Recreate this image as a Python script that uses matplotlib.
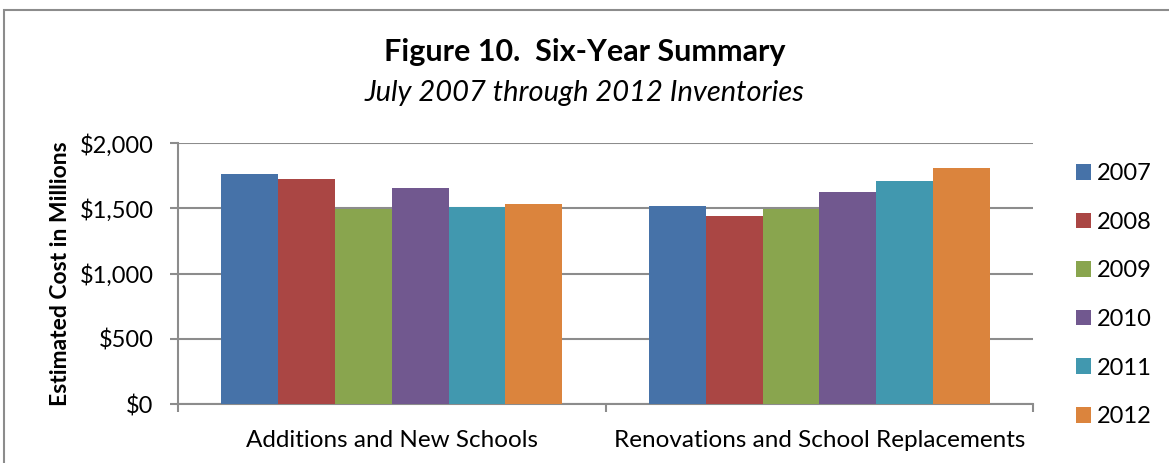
import numpy as np
import matplotlib.pyplot as plt
from matplotlib.patches import Rectangle
from matplotlib.ticker import FuncFormatter, FixedLocator

categories = ["Additions and New Schools", "Renovations and School Replacements"]
years = ["2007", "2008", "2009", "2010", "2011", "2012"]
cost_2007 = [1766, 1516]
cost_2008 = [1725, 1439]
cost_2009 = [1491, 1498]
cost_2010 = [1659, 1625]
cost_2011 = [1508, 1707]
cost_2012 = [1536, 1807]
colors = ["#4672A8", "#AA4644", "#89A54E", "#71588F", "#4198AF", "#DB843D"]

series = [cost_2007, cost_2008, cost_2009, cost_2010, cost_2011, cost_2012]

plt.rcParams["font.family"] = ["Lato", "DejaVu Sans"]

fig = plt.figure(figsize=(11.69, 4.63), dpi=100)
ax = fig.add_axes([0.1523, 0.1274, 0.7314, 0.5636])

x = np.arange(len(categories))
w = 1 / 7.53
for i, (vals, c, yr) in enumerate(zip(series, colors, years)):
    ax.bar(x + (i - 2.5) * w, vals, width=w, color=c, label=yr, zorder=3,
           edgecolor="none")

ax.set_xlim(-0.5, 1.5)
ax.set_ylim(0, 2000)
ax.set_yticks([0, 500, 1000, 1500, 2000])
ax.yaxis.set_major_formatter(FuncFormatter(lambda v, p: "${:,.0f}".format(v)))
ax.grid(axis="y", color="#8C8C8C", linewidth=1.5, zorder=0)

# category boundary ticks on the x axis
ax.xaxis.set_major_locator(FixedLocator([-0.5, 0.5, 1.5]))
ax.xaxis.set_minor_locator(FixedLocator(x))
ax.set_xticklabels([])
ax.set_xticks(x, categories, minor=True)
ax.tick_params(axis="x", which="minor", length=0, labelsize=17.5, pad=19)
ax.tick_params(axis="x", which="major", length=6, width=1.5, color="#8C8C8C")
ax.tick_params(axis="y", length=6, width=1.5, color="#8C8C8C", labelsize=17, pad=11.5)

for s in ["top", "right"]:
    ax.spines[s].set_visible(False)
for s in ["left", "bottom"]:
    ax.spines[s].set_color("#8C8C8C")
    ax.spines[s].set_linewidth(1.5)

ax.set_ylabel("Estimated Cost in Millions", fontsize=16.5, fontweight="bold", labelpad=6)

fig.text(0.5, 0.888, "Figure 10.  Six-Year Summary", ha="center", va="center",
         fontsize=22, fontweight="bold")
fig.text(0.5, 0.799, "July 2007 through 2012 Inventories", ha="center", va="center",
         fontsize=21, style="italic")

ax.legend(loc="upper left", bbox_to_anchor=(1.025, 1.005), frameon=False,
          fontsize=17, handlelength=0.64, handleheight=0.64, labelspacing=1.17,
          handletextpad=0.25)

# chart border
fig.patches.append(Rectangle((4 / 1169, -0.1), 1.2, (463 - 10.5) / 463 + 0.1,
                             transform=fig.transFigure, fill=False,
                             edgecolor="#8C8C8C", linewidth=1.5))

fig.savefig("out.png", dpi=100)
